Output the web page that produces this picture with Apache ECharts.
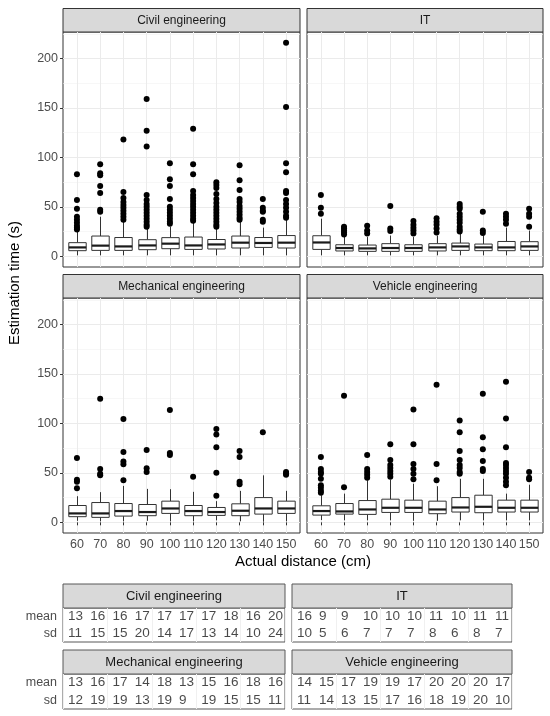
<!DOCTYPE html>
<html>
<head>
<meta charset="utf-8">
<script src="https://cdn.jsdelivr.net/npm/echarts@6/dist/echarts.min.js"></script>
<style>
html, body { margin: 0; padding: 0; background: #fff; }
#chart { width: 550px; height: 716px; }
</style>
</head>
<body>
<div id="chart"></div>
<script>
var distances = ['60', '70', '80', '90', '100', '110', '120', '130', '140', '150'];
var yTicks = [0, 50, 100, 150, 200];
var yMinorTicks = [25, 75, 125, 175, 225];
var departments = ['Civil engineering', 'IT', 'Mechanical engineering', 'Vehicle engineering'];
var tableRows = ['mean', 'sd'];

// [lower whisker, Q1, median, Q3, upper whisker] per distance
var civilBoxes = [
    [1, 5.7, 9, 13.8, 25], [1, 6, 10.8, 20.5, 40], [1, 6, 10, 19, 36], [1, 6.7, 11, 16.8, 28], [1, 7.7, 12.8, 18.9, 30],
    [1, 7, 11, 19.5, 35], [1, 7.4, 12, 17, 28], [1, 8.4, 13.8, 20.5, 35], [1, 9, 13.5, 19, 29], [1, 8.4, 13.8, 21, 37]
];
var civilOutliers = [
    [83, 57, 48, 40, 37, 34, 31, 29, 27],
    [93, 84, 82, 71, 64, 47, 45],
    [118, 65, 59, 55, 52, 49, 46, 43, 40, 37],
    [159, 127, 111, 62, 57, 53, 50, 47, 44, 41, 38, 35, 32, 30],
    [94, 78, 71, 58, 50, 47, 44, 41, 38, 35, 33],
    [129, 93, 83, 66, 62, 59, 56, 53, 50, 47, 44, 41, 38, 36],
    [75, 72, 69, 63, 58, 54, 50, 47, 44, 41, 38, 35, 32, 30],
    [92, 77, 67, 58, 55, 51, 48, 45, 42, 39, 37],
    [58, 49, 46, 45, 37, 35],
    [216, 151, 94, 85, 66, 64, 57, 53, 49, 45, 41, 39]
];
var itBoxes = [
    [1, 7, 14, 20.8, 38], [1, 5.4, 8.4, 11.7, 20], [1, 5, 8, 11.4, 19.5], [1, 5, 8.4, 12.8, 21], [1, 5, 8.4, 11.7, 19.5],
    [1, 5.4, 9, 12.8, 21], [1, 6, 10, 13.4, 23], [1, 5.7, 9, 12.4, 21], [1, 5.7, 9, 15, 29], [1, 6, 10, 14.8, 26]
];
var itOutliers = [
    [62, 49, 43],
    [30, 28, 26, 24, 22],
    [31, 26, 23],
    [51, 28, 25.5],
    [35.6, 32, 29, 26, 23],
    [38.6, 35, 32, 28, 24],
    [53, 50, 48, 43, 40, 37, 34, 30, 27, 25],
    [45, 26, 23.5],
    [43, 40, 37, 33],
    [48, 43, 40, 30]
];
var mechBoxes = [
    [1.5, 5.7, 9, 17, 26.4], [1, 5, 9, 20, 30.5], [1, 6.3, 11.4, 19, 36.8], [1.5, 6.7, 10.4, 18, 33.8], [1, 9, 14, 21.4, 33.5],
    [1, 6.7, 11.4, 17, 30.8], [2, 7, 10.4, 15, 21.4], [1, 6.7, 11.7, 18.7, 31.8], [0.6, 8.3, 14, 25, 47.5], [1, 9, 14, 21.4, 31.8]
];
var mechOutliers = [
    [65, 43, 41, 34.5],
    [125, 54, 49, 47.5],
    [104.5, 71, 61.6, 58.6, 42.5],
    [73, 54.6, 51],
    [113.5, 70, 68],
    [46],
    [94.4, 88.7, 76, 50, 26.8],
    [72, 66, 41, 38.5],
    [91],
    [51, 49, 48]
];
var vehicleBoxes = [
    [2.3, 7.3, 11.4, 16.7, 27.4], [2, 8.3, 11, 19, 29], [2, 8, 13, 22, 42.5], [2, 10, 14.7, 23.4, 43], [1.5, 10, 14.7, 22.4, 39],
    [1.5, 8.7, 13, 21.4, 36.5], [2, 10.4, 15, 25, 44], [2, 9.7, 15.7, 27.4, 44], [2, 10.4, 14.7, 22.4, 29], [2, 10.4, 14.7, 22.4, 38]
];
var vehicleOutliers = [
    [66, 54, 51, 49, 44, 37.5, 35, 32, 30],
    [128, 35.5],
    [68, 54, 51, 48, 45],
    [79, 63, 58, 55, 52, 49, 46],
    [114, 79, 59, 54, 49, 43.5],
    [139, 59, 42.5],
    [103, 91, 72, 63, 58, 55, 51, 49],
    [130, 86, 74, 62, 54, 52],
    [142, 105, 76, 60, 58, 55, 52, 49, 45, 41, 37.5],
    [51, 45, 43.5]
];

var civilMean = [13, 16, 16, 17, 17, 17, 17, 18, 16, 20];
var civilSd = [11, 15, 15, 20, 14, 17, 13, 14, 10, 24];
var itMean = [16, 9, 9, 10, 10, 10, 11, 10, 11, 11];
var itSd = [10, 5, 6, 7, 7, 7, 8, 6, 8, 7];
var mechMean = [13, 16, 17, 14, 18, 13, 15, 16, 18, 16];
var mechSd = [12, 19, 19, 13, 19, 9, 19, 15, 15, 11];
var vehicleMean = [14, 15, 17, 19, 19, 17, 20, 20, 20, 17];
var vehicleSd = [11, 14, 13, 15, 17, 16, 18, 19, 20, 10];

var allBoxes = [civilBoxes, itBoxes, mechBoxes, vehicleBoxes];
var allOutliers = [civilOutliers, itOutliers, mechOutliers, vehicleOutliers];
var allMeans = [civilMean, itMean, mechMean, vehicleMean];
var allSds = [civilSd, itSd, mechSd, vehicleSd];

// layout
var FONT = '"Liberation Sans", Arial, sans-serif';
var panelPos = [
    { left: 63, top: 32, width: 237, height: 235 },
    { left: 307, top: 32, width: 236, height: 235 },
    { left: 63, top: 298, width: 237, height: 235 },
    { left: 307, top: 298, width: 236, height: 235 }
];
var tablePos = [
    { left: 63, top: 608, width: 222, height: 34 },
    { left: 292, top: 608, width: 220, height: 34 },
    { left: 63, top: 674, width: 222, height: 35 },
    { left: 292, top: 674, width: 220, height: 35 }
];
var STRIP_H = 23.5;
var TABLE_STRIP_H = 24;
var xPositions = distances.map(function (d, i) { return i + 1; });

function renderBox(params, api) {
    var x = api.value(0);
    var lo = api.coord([x, api.value(1)]);
    var q1 = api.coord([x, api.value(2)]);
    var md = api.coord([x, api.value(3)]);
    var q3 = api.coord([x, api.value(4)]);
    var hi = api.coord([x, api.value(5)]);
    var half = api.size([0.75, 0])[0] / 2;
    var cx = Math.round(q1[0]) + 0.5;
    var line = { stroke: '#333333', lineWidth: 1 };
    return {
        type: 'group',
        children: [
            { type: 'line', shape: { x1: cx, y1: lo[1], x2: cx, y2: q1[1] }, style: line },
            { type: 'line', shape: { x1: cx, y1: hi[1], x2: cx, y2: q3[1] }, style: line },
            { type: 'rect', shape: { x: cx - half, y: q3[1], width: half * 2, height: q1[1] - q3[1] },
              style: { fill: '#ffffff', stroke: '#333333', lineWidth: 1 } },
            { type: 'line', shape: { x1: cx - half, y1: md[1], x2: cx + half, y2: md[1] },
              style: { stroke: '#1a1a1a', lineWidth: 2.2 } }
        ]
    };
}

var grids = [], xAxes = [], yAxes = [], series = [], graphics = [];

for (var p = 0; p < 4; p++) {
    var pos = panelPos[p];
    var isBottom = p >= 2, isLeft = p % 2 === 0;
    grids.push({
        left: pos.left, top: pos.top, width: pos.width, height: pos.height,
        show: true, backgroundColor: '#fff', borderColor: '#333333', borderWidth: 1,
        outerBoundsMode: 'none', containLabel: false
    });
    xAxes.push({
        type: 'value', gridIndex: p, min: 0.4, max: 10.6,
        axisLine: { show: false },
        axisTick: { show: isBottom, length: 3, customValues: xPositions, lineStyle: { color: '#333333' } },
        axisLabel: {
            show: isBottom, customValues: xPositions, margin: 5,
            color: '#4d4d4d', fontSize: 12.5, fontFamily: FONT,
            formatter: function (v) { return distances[Math.round(v) - 1]; }
        },
        splitLine: { show: true, lineStyle: { color: '#ebebeb', width: 1 } }
    });
    // main y axis
    yAxes.push({
        type: 'value', gridIndex: p, min: -10.8, max: 226.8,
        axisLine: { show: false },
        axisTick: { show: isLeft, length: 3, customValues: yTicks, lineStyle: { color: '#333333' } },
        axisLabel: { show: isLeft, customValues: yTicks, margin: 5, color: '#4d4d4d', fontSize: 12.5, fontFamily: FONT },
        splitLine: { show: true, lineStyle: { color: '#ebebeb', width: 1 } }
    });
    // minor grid lines
    yAxes.push({
        type: 'value', gridIndex: p, min: -10.8, max: 226.8, position: 'left',
        axisLine: { show: false },
        axisTick: { show: false, customValues: yMinorTicks },
        axisLabel: { show: false, customValues: yMinorTicks },
        splitLine: { show: true, lineStyle: { color: '#f2f2f2', width: 0.6 } }
    });

    series.push({
        type: 'custom', xAxisIndex: p, yAxisIndex: 2 * p, z: 3,
        renderItem: renderBox,
        encode: { x: 0, y: [1, 2, 3, 4, 5] },
        data: allBoxes[p].map(function (b, i) { return [i + 1].concat(b); })
    });
    var pts = [];
    allOutliers[p].forEach(function (list, i) {
        list.forEach(function (v) { pts.push([i + 1, v]); });
    });
    series.push({
        type: 'scatter', xAxisIndex: p, yAxisIndex: 2 * p, z: 4,
        symbolSize: 6, itemStyle: { color: '#000', opacity: 1 }, data: pts, silent: true
    });

    graphics.push({
        type: 'rect', shape: { x: pos.left, y: pos.top - STRIP_H, width: pos.width, height: STRIP_H },
        style: { fill: '#d9d9d9', stroke: '#333333', lineWidth: 1 }
    });
    graphics.push({
        type: 'text', x: pos.left + pos.width / 2, y: pos.top - STRIP_H / 2,
        style: { text: departments[p], fill: '#1a1a1a', font: '12px ' + FONT, align: 'center', verticalAlign: 'middle' }
    });
}

// summary tables
for (var t = 0; t < 4; t++) {
    var tp = tablePos[t];
    var g = 4 + t;
    grids.push({
        left: tp.left, top: tp.top, width: tp.width, height: tp.height,
        show: true, backgroundColor: '#fff', borderColor: '#595959', borderWidth: 1,
        outerBoundsMode: 'none', containLabel: false
    });
    xAxes.push({
        type: 'category', gridIndex: g, data: distances,
        axisLine: { show: false }, axisTick: { show: false }, axisLabel: { show: false },
        splitLine: { show: true, lineStyle: { color: '#f0f0f0' } }
    });
    yAxes.push({
        type: 'category', gridIndex: g, data: tableRows, inverse: true,
        axisLine: { show: false }, axisTick: { show: false },
        axisLabel: { show: t % 2 === 0, margin: 6, color: '#4d4d4d', fontSize: 12.5, fontFamily: FONT },
        splitLine: { show: false }
    });
    var cells = [];
    distances.forEach(function (d, i) {
        cells.push([d, 'mean', allMeans[t][i]]);
        cells.push([d, 'sd', allSds[t][i]]);
    });
    series.push({
        type: 'scatter', xAxisIndex: 4 + t, yAxisIndex: 8 + t,
        symbolSize: 0.1, itemStyle: { color: 'rgba(0,0,0,0)' }, silent: true,
        label: {
            show: true, position: 'inside', align: 'left', offset: [-6, 0],
            color: '#1a1a1a', fontSize: 13.5, fontFamily: FONT,
            formatter: function (prm) { return prm.value[2]; }
        },
        data: cells
    });
    graphics.push({
        type: 'rect', shape: { x: tp.left, y: tp.top - TABLE_STRIP_H, width: tp.width, height: TABLE_STRIP_H },
        style: { fill: '#d9d9d9', stroke: '#595959', lineWidth: 1 }
    });
    graphics.push({
        type: 'text', x: tp.left + tp.width / 2, y: tp.top - TABLE_STRIP_H / 2,
        style: { text: departments[t], fill: '#1a1a1a', font: '13px ' + FONT, align: 'center', verticalAlign: 'middle' }
    });
}

// axis titles
graphics.push({
    type: 'text', x: 303, y: 562,
    style: { text: 'Actual distance (cm)', fill: '#000', font: '15px ' + FONT, align: 'center', verticalAlign: 'middle' }
});
graphics.push({
    type: 'text', x: 15, y: 283, rotation: Math.PI / 2,
    style: { text: 'Estimation time (s)', fill: '#000', font: '15px ' + FONT, align: 'center', verticalAlign: 'middle' }
});

var chart = echarts.init(document.getElementById('chart'), null, { renderer: 'canvas' });
chart.setOption({
    animation: false,
    backgroundColor: '#fff',
    textStyle: { fontFamily: FONT },
    grid: grids,
    xAxis: xAxes,
    yAxis: yAxes,
    series: series,
    graphic: { elements: graphics }
});
</script>
</body>
</html>
